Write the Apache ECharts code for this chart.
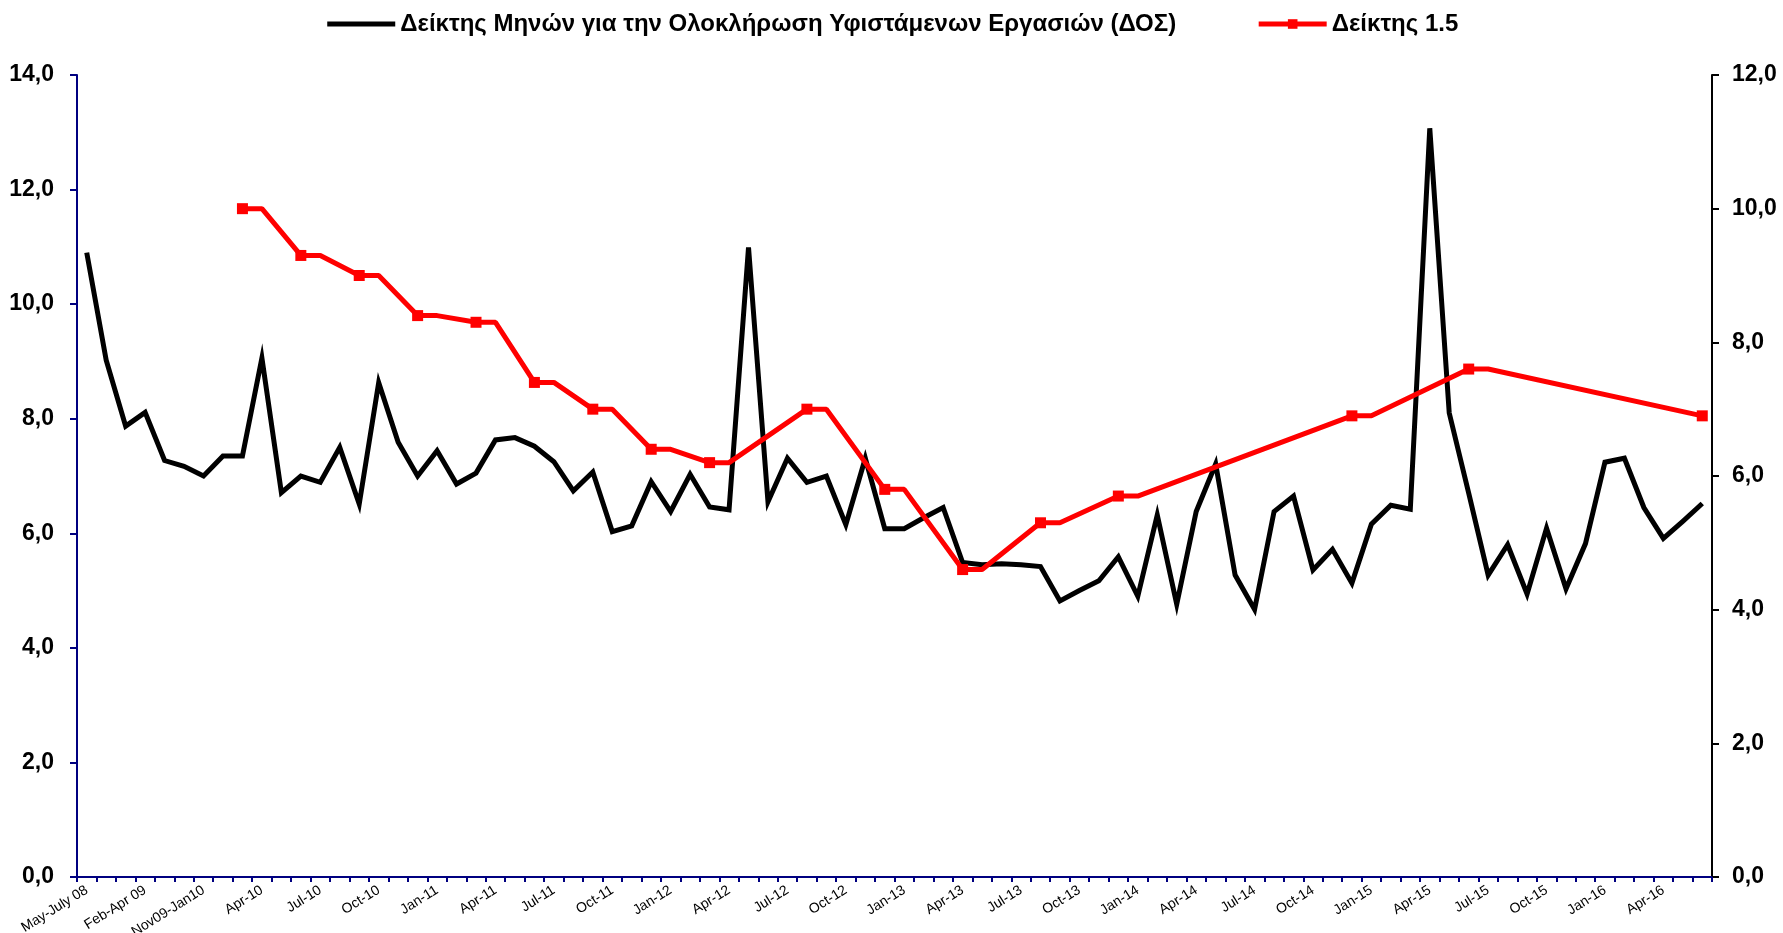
<!DOCTYPE html>
<html>
<head>
<meta charset="utf-8">
<style>
  html, body { margin: 0; padding: 0; background: #fff; }
  #chart { width: 1783px; height: 933px; }
</style>
<script src="https://cdn.jsdelivr.net/npm/echarts@6/dist/echarts.min.js"></script>
</head>
<body>
<div id="chart"></div>
<script>
const categories = [
  'May-July 08', 'Aug-Oct 08', 'Nov08-Jan09', 'Feb-Apr 09', 'May-July 09', 'Aug-Oct 09', 'Nov09-Jan10', 'Feb-10', 'Mar-10',
  'Apr-10', 'May-10', 'Jun-10', 'Jul-10', 'Aug-10', 'Sep-10', 'Oct-10', 'Nov-10', 'Dec-10',
  'Jan-11', 'Feb-11', 'Mar-11', 'Apr-11', 'May-11', 'Jun-11', 'Jul-11', 'Aug-11', 'Sep-11', 'Oct-11', 'Nov-11', 'Dec-11',
  'Jan-12', 'Feb-12', 'Mar-12', 'Apr-12', 'May-12', 'Jun-12', 'Jul-12', 'Aug-12', 'Sep-12', 'Oct-12', 'Nov-12', 'Dec-12',
  'Jan-13', 'Feb-13', 'Mar-13', 'Apr-13', 'May-13', 'Jun-13', 'Jul-13', 'Aug-13', 'Sep-13', 'Oct-13', 'Nov-13', 'Dec-13',
  'Jan-14', 'Feb-14', 'Mar-14', 'Apr-14', 'May-14', 'Jun-14', 'Jul-14', 'Aug-14', 'Sep-14', 'Oct-14', 'Nov-14', 'Dec-14',
  'Jan-15', 'Feb-15', 'Mar-15', 'Apr-15', 'May-15', 'Jun-15', 'Jul-15', 'Aug-15', 'Sep-15', 'Oct-15', 'Nov-15', 'Dec-15',
  'Jan-16', 'Feb-16', 'Mar-16', 'Apr-16', 'May-16', 'Jun-16'
];

// Δείκτης Μηνών (left axis)
const dosValues = [
  10.9, 9.02, 7.87, 8.11, 7.27, 7.17, 7.0, 7.35, 7.35,
  9.06, 6.71, 7.0, 6.89, 7.5, 6.51, 8.63, 7.59, 7.0,
  7.44, 6.86, 7.05, 7.63, 7.67, 7.52, 7.25, 6.74, 7.07, 6.03, 6.13, 6.9,
  6.38, 7.03, 6.46, 6.41, 10.99, 6.55, 7.31, 6.89, 7.0, 6.15, 7.31, 6.08,
  6.08, 6.27, 6.45, 5.49, 5.45, 5.47, 5.45, 5.42, 4.82, 5.0, 5.17, 5.59,
  4.9, 6.32, 4.76, 6.38, 7.21, 5.27, 4.67, 6.38, 6.65, 5.36, 5.72, 5.13,
  6.16, 6.49, 6.42, 13.07, 8.1, 6.7, 5.27, 5.8, 4.94, 6.09, 5.03, 5.82,
  7.24, 7.31, 6.45, 5.91, 6.21, 6.52
];

// Δείκτης 1.5 (right axis)
const indexValues = [
  null, null, null, null, null, null, null, null, 10.0,
  10.0, null, 9.3, 9.3, null, 9.0, 9.0, null, 8.4,
  8.4, null, 8.3, 8.3, null, 7.4, 7.4, null, 7.0, 7.0, null, 6.4,
  6.4, null, 6.2, 6.2, null, null, null, 7.0, 7.0, null, null, 5.8,
  5.8, null, null, 4.6, 4.6, null, null, 5.3, 5.3, null, null, 5.7,
  5.7, null, null, null, null, null, null, null, null, null, null, 6.9,
  6.9, null, null, null, null, 7.6, 7.6, null, null, null, null, null,
  null, null, null, null, null, 6.9
];

const leftTicks = {min: 0, max: 14, interval: 2};
const rightTicks = {min: 0, max: 12, interval: 2};

const fmt = (v) => v.toFixed(1).replace('.', ',');

// marker only where a run of values starts
const indexData = indexValues.map((v, i) => {
  if (v === null) return null;
  const start = i === 0 || indexValues[i - 1] === null;
  return {value: v, symbol: start ? 'rect' : 'none'};
});

var myChart = echarts.init(document.getElementById('chart'));

myChart.setOption({
  animation: false,
  textStyle: {fontFamily: 'Liberation Sans, Arial, sans-serif', color: '#000'},
  legend: {
    top: 7,
    left: 'center',
    itemGap: 80,
    itemWidth: 68,
    itemHeight: 12,
    textStyle: {fontSize: 24, fontWeight: 'bold', color: '#000'},
    data: [
      {
        name: 'Δείκτης Μηνών για την Ολοκλήρωση Υφιστάμενων Εργασιών (ΔΟΣ)',
        itemStyle: {color: 'rgba(0,0,0,0)', borderWidth: 0},
        lineStyle: {width: 5}
      },
      {name: 'Δείκτης 1.5', lineStyle: {width: 5}}
    ]
  },
  grid: {left: 77, right: 71, top: 75, bottom: 56, outerBoundsMode: 'none', containLabel: false},
  xAxis: {
    type: 'category',
    data: categories,
    boundaryGap: true,
    axisLine: {lineStyle: {color: '#000080', width: 2}},
    axisTick: {show: true, interval: 0, length: 5, lineStyle: {color: '#000080', width: 2}},
    axisLabel: {interval: 2, rotate: 32, fontSize: 14, color: '#000', margin: 12}
  },
  yAxis: [
    {
      type: 'value',
      min: leftTicks.min,
      max: leftTicks.max,
      interval: leftTicks.interval,
      splitLine: {show: false},
      axisLine: {show: true, lineStyle: {color: '#000080', width: 2}},
      axisTick: {show: true, length: 7, lineStyle: {color: '#000080', width: 2}},
      axisLabel: {fontSize: 23, fontWeight: 'bold', color: '#000', margin: 23, formatter: fmt}
    },
    {
      type: 'value',
      min: rightTicks.min,
      max: rightTicks.max,
      interval: rightTicks.interval,
      position: 'right',
      splitLine: {show: false},
      axisLine: {show: true, lineStyle: {color: '#000', width: 2}},
      axisTick: {show: true, length: 7, lineStyle: {color: '#000', width: 2}},
      axisLabel: {fontSize: 23, fontWeight: 'bold', color: '#000', margin: 20, formatter: fmt}
    }
  ],
  series: [
    {
      name: 'Δείκτης Μηνών για την Ολοκλήρωση Υφιστάμενων Εργασιών (ΔΟΣ)',
      type: 'line',
      yAxisIndex: 0,
      data: dosValues,
      symbol: 'none',
      lineStyle: {color: '#000', width: 5, join: 'miter'},
      itemStyle: {color: '#000'}
    },
    {
      name: 'Δείκτης 1.5',
      type: 'line',
      yAxisIndex: 1,
      data: indexData,
      connectNulls: true,
      symbol: 'rect',
      symbolSize: 11,
      lineStyle: {color: '#ff0000', width: 5},
      itemStyle: {color: '#ff0000'}
    }
  ]
});
</script>
</body>
</html>
